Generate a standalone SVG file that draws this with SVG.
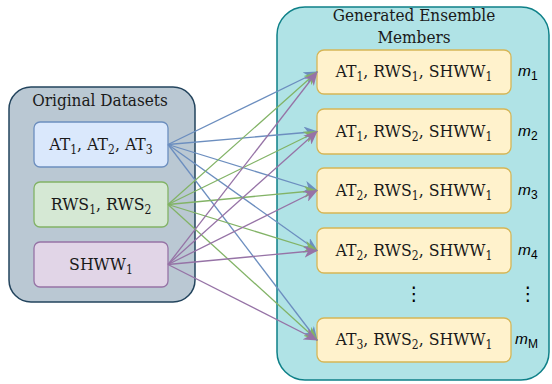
<svg xmlns="http://www.w3.org/2000/svg" width="552" height="384" viewBox="0 0 552 384">
<style>
.t{font-family:"DejaVu Serif Condensed","DejaVu Serif","Liberation Serif",serif;font-stretch:condensed;font-size:17.5px;fill:#1a1a1a;text-anchor:middle}
.h{font-size:17px}
.s{font-size:12px}
.m{font-family:"Liberation Sans",Arial,sans-serif;font-size:15.5px;fill:#000}
.d{font-family:"DejaVu Sans",sans-serif;font-size:19px;text-anchor:middle;fill:#000}
.b{stroke-width:1.3;fill:none}
.blue{stroke:#6c8ebf}.green{stroke:#82b366}.purple{stroke:#9673a6}
</style>
<defs>
<marker id="ab" markerUnits="userSpaceOnUse" markerWidth="14" markerHeight="12" viewBox="0 0 14 12" refX="13" refY="6" orient="auto"><path d="M0,0 L14,6 L0,12 L4,6 z" fill="#6c8ebf"/></marker>
<marker id="ag" markerUnits="userSpaceOnUse" markerWidth="14" markerHeight="12" viewBox="0 0 14 12" refX="13" refY="6" orient="auto"><path d="M0,0 L14,6 L0,12 L4,6 z" fill="#82b366"/></marker>
<marker id="ap" markerUnits="userSpaceOnUse" markerWidth="14" markerHeight="12" viewBox="0 0 14 12" refX="13" refY="6" orient="auto"><path d="M0,0 L14,6 L0,12 L4,6 z" fill="#9673a6"/></marker>
</defs>
<g id="original">
<rect x="9" y="87" width="186" height="215" rx="22" fill="#bac8d3" stroke="#23445d" stroke-width="1.5"/>
<text class="t h" x="100" y="106">Original Datasets</text>
</g>
<g id="generated">
<rect x="277" y="7" width="272" height="373" rx="28" fill="#b0e3e6" stroke="#0e8088" stroke-width="1.5"/>
<text class="t h" x="414" y="21">Generated Ensemble</text>
<text class="t h" x="414" y="43">Members</text>
</g>
<g id="at">
<rect x="34" y="122" width="134" height="45" rx="6" fill="#dae8fc" stroke="#6c8ebf" stroke-width="1.3"/>
<text class="t" x="101" y="150">AT<tspan class="s" dy="3.5">1</tspan><tspan dy="-3.5">, AT</tspan><tspan class="s" dy="3.5">2</tspan><tspan dy="-3.5">, AT</tspan><tspan class="s" dy="3.5">3</tspan></text>
</g>
<g id="rws">
<rect x="34" y="182" width="134" height="45" rx="6" fill="#d5e8d4" stroke="#82b366" stroke-width="1.3"/>
<text class="t" x="101" y="210">RWS<tspan class="s" dy="3.5">1</tspan><tspan dy="-3.5">, RWS</tspan><tspan class="s" dy="3.5">2</tspan></text>
</g>
<g id="shww">
<rect x="34" y="242" width="134" height="45" rx="6" fill="#e1d5e7" stroke="#9673a6" stroke-width="1.3"/>
<text class="t" x="101" y="270">SHWW<tspan class="s" dy="3.5">1</tspan></text>
</g>
<g id="m1">
<rect x="317" y="50" width="194" height="44" rx="7" fill="#fff2cc" stroke="#d6b656" stroke-width="1.3"/>
<text class="t" x="414" y="77">AT<tspan class="s" dy="3.5">1</tspan><tspan dy="-3.5">, RWS</tspan><tspan class="s" dy="3.5">1</tspan><tspan dy="-3.5">, SHWW</tspan><tspan class="s" dy="3.5">1</tspan></text>
<text class="m" x="518" y="76"><tspan font-style="italic">m</tspan><tspan font-size="12" dy="4">1</tspan></text>
</g>
<g id="m2">
<rect x="317" y="109" width="194" height="45" rx="7" fill="#fff2cc" stroke="#d6b656" stroke-width="1.3"/>
<text class="t" x="414" y="137">AT<tspan class="s" dy="3.5">1</tspan><tspan dy="-3.5">, RWS</tspan><tspan class="s" dy="3.5">2</tspan><tspan dy="-3.5">, SHWW</tspan><tspan class="s" dy="3.5">1</tspan></text>
<text class="m" x="518" y="135.5"><tspan font-style="italic">m</tspan><tspan font-size="12" dy="4">2</tspan></text>
</g>
<g id="m3">
<rect x="317" y="168" width="194" height="45" rx="7" fill="#fff2cc" stroke="#d6b656" stroke-width="1.3"/>
<text class="t" x="414" y="196">AT<tspan class="s" dy="3.5">2</tspan><tspan dy="-3.5">, RWS</tspan><tspan class="s" dy="3.5">1</tspan><tspan dy="-3.5">, SHWW</tspan><tspan class="s" dy="3.5">1</tspan></text>
<text class="m" x="518" y="194.5"><tspan font-style="italic">m</tspan><tspan font-size="12" dy="4">3</tspan></text>
</g>
<g id="m4">
<rect x="317" y="228" width="194" height="45" rx="7" fill="#fff2cc" stroke="#d6b656" stroke-width="1.3"/>
<text class="t" x="414" y="256">AT<tspan class="s" dy="3.5">2</tspan><tspan dy="-3.5">, RWS</tspan><tspan class="s" dy="3.5">2</tspan><tspan dy="-3.5">, SHWW</tspan><tspan class="s" dy="3.5">1</tspan></text>
<text class="m" x="518" y="254.5"><tspan font-style="italic">m</tspan><tspan font-size="12" dy="4">4</tspan></text>
</g>
<g id="dots">
<text class="d" x="414" y="300">⋮</text>
<text class="d" x="528" y="300">⋮</text>
</g>
<g id="mM">
<rect x="317" y="318" width="194" height="44" rx="7" fill="#fff2cc" stroke="#d6b656" stroke-width="1.3"/>
<text class="t" x="414" y="345">AT<tspan class="s" dy="3.5">3</tspan><tspan dy="-3.5">, RWS</tspan><tspan class="s" dy="3.5">2</tspan><tspan dy="-3.5">, SHWW</tspan><tspan class="s" dy="3.5">1</tspan></text>
<text class="m" x="515" y="344"><tspan font-style="italic">m</tspan><tspan font-size="12" dy="4">M</tspan></text>
</g>
<g id="connectors">
<line class="b blue" x1="168" y1="144.5" x2="317" y2="72" marker-end="url(#ab)"/>
<line class="b blue" x1="168" y1="144.5" x2="317" y2="131.5" marker-end="url(#ab)"/>
<line class="b blue" x1="168" y1="144.5" x2="317" y2="190.5" marker-end="url(#ab)"/>
<line class="b blue" x1="168" y1="144.5" x2="317" y2="250.5" marker-end="url(#ab)"/>
<line class="b blue" x1="168" y1="144.5" x2="317" y2="340" marker-end="url(#ab)"/>
<line class="b green" x1="168" y1="204.5" x2="317" y2="72" marker-end="url(#ag)"/>
<line class="b green" x1="168" y1="204.5" x2="317" y2="131.5" marker-end="url(#ag)"/>
<line class="b green" x1="168" y1="204.5" x2="317" y2="190.5" marker-end="url(#ag)"/>
<line class="b green" x1="168" y1="204.5" x2="317" y2="250.5" marker-end="url(#ag)"/>
<line class="b green" x1="168" y1="204.5" x2="317" y2="340" marker-end="url(#ag)"/>
<line class="b purple" x1="168" y1="264.5" x2="317" y2="72" marker-end="url(#ap)"/>
<line class="b purple" x1="168" y1="264.5" x2="317" y2="131.5" marker-end="url(#ap)"/>
<line class="b purple" x1="168" y1="264.5" x2="317" y2="190.5" marker-end="url(#ap)"/>
<line class="b purple" x1="168" y1="264.5" x2="317" y2="250.5" marker-end="url(#ap)"/>
<line class="b purple" x1="168" y1="264.5" x2="317" y2="340" marker-end="url(#ap)"/>
</g>
</svg>
